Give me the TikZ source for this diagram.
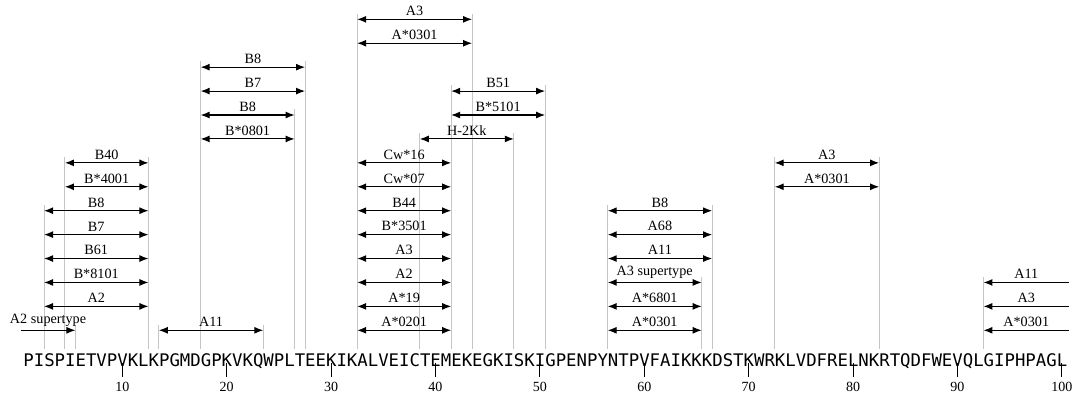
\documentclass[tikz,border=0pt]{standalone}
\usepackage{fontspec}
\setmainfont{Liberation Serif}
\newfontfamily\seqfont{DejaVu Sans Mono}
\usetikzlibrary{arrows.meta}

% left edge / right edge of residue n
\newcommand\myL[1]{23.18+(#1-1)*10.438}
\newcommand\myR[1]{33.62+(#1-1)*10.438}
\newcommand\rowy[1]{66.7+23.92*#1}

% epitope: name, row, start residue, end residue, label
\newcommand\epitope[5]{%
  \coordinate (#1a) at ({\myL{#3}},{\rowy{#2}});
  \coordinate (#1b) at ({\myR{#4}},{\rowy{#2}});
  \draw[epiarrow] (#1a) -- (#1b) node[lab] (#1l) {#5};
}
% guide line: name, x expression, top row
\newcommand\guide[3]{%
  \coordinate (#1t) at ({#2},{\rowy{#3}+5.7});
  \coordinate (#1b) at ({#2},48);
  \draw[guideline] (#1t) -- (#1b);
}

\begin{document}
\begin{tikzpicture}[x=1pt,y=1pt,
  guideline/.style={draw=gray!45, line width=1pt},
  epiarrow/.style={line width=1.1pt, {Latex[length=9pt,width=7pt]}-{Latex[length=9pt,width=7pt]}},
  rightarrow/.style={line width=1.1pt, -{Latex[length=9pt,width=7pt]}},
  leftarrow/.style={line width=1.1pt, {Latex[length=9pt,width=7pt]}-},
  lab/.style={midway, anchor=south, yshift=3pt, inner sep=0pt, font=\fontsize{14.2}{16}\selectfont},
  numlab/.style={anchor=base, inner sep=0pt, font=\fontsize{14}{16}\selectfont},
  ticksty/.style={line width=1pt}]
\useasboundingbox (0,0) rectangle (1075,397);

% guide lines
\guide{g1}{\myL{3}}{5}
\guide{g2}{\myL{5}}{7}
\guide{g3}{\myR{12}}{7}
\guide{g4}{\myR{5}}{0}
\guide{g5}{\myL{14}}{0}
\guide{g6}{\myR{23}}{0}
\guide{g7}{\myL{18}}{11}
\guide{g8}{\myR{27}}{11}
\guide{g9}{\myR{26}}{9}
\guide{g10}{\myL{33}}{13}
\guide{g11}{\myR{43}}{13}
\guide{g12}{\myL{42}}{10}
\guide{g13}{\myR{50}}{10}
\guide{g14}{\myL{39}}{8}
\guide{g15}{\myR{47}}{8}
\guide{g16}{\myL{57}}{5}
\guide{g17}{\myR{66}}{5}
\guide{g18}{\myR{65}}{2}
\guide{g19}{\myL{73}}{7}
\guide{g20}{\myR{82}}{7}
\guide{g21}{\myL{93}}{2}

% left group
\epitope{e1}{7}{5}{12}{B40}
\epitope{e2}{6}{5}{12}{B*4001}
\epitope{e3}{5}{3}{12}{B8}
\epitope{e4}{4}{3}{12}{B7}
\epitope{e5}{3}{3}{12}{B61}
\epitope{e6}{2}{3}{12}{B*8101}
\epitope{e7}{1}{3}{12}{A2}
\coordinate (e8a) at (20.7,{\rowy{0}});
\coordinate (e8b) at ({\myR{5}},{\rowy{0}});
\draw[rightarrow] (e8a) -- (e8b) node[lab] (e8l) {A2 supertype};
\epitope{e9}{0}{14}{23}{A11}

% left-middle group
\epitope{e10}{11}{18}{27}{B8}
\epitope{e11}{10}{18}{27}{B7}
\epitope{e12}{9}{18}{26}{B8}
\epitope{e13}{8}{18}{26}{B*0801}

% middle group
\epitope{e14}{13}{33}{43}{A3}
\epitope{e15}{12}{33}{43}{A*0301}
\epitope{e16}{10}{42}{50}{B51}
\epitope{e17}{9}{42}{50}{B*5101}
\epitope{e18}{8}{39}{47}{H-2Kk}
\epitope{e19}{7}{33}{41}{Cw*16}
\epitope{e20}{6}{33}{41}{Cw*07}
\epitope{e21}{5}{33}{41}{B44}
\epitope{e22}{4}{33}{41}{B*3501}
\epitope{e23}{3}{33}{41}{A3}
\epitope{e24}{2}{33}{41}{A2}
\epitope{e25}{1}{33}{41}{A*19}
\epitope{e26}{0}{33}{41}{A*0201}

% right-middle group
\epitope{e27}{5}{57}{66}{B8}
\epitope{e28}{4}{57}{66}{A68}
\epitope{e29}{3}{57}{66}{A11}
\epitope{e30}{2}{57}{65}{A3 supertype}
\epitope{e31}{1}{57}{65}{A*6801}
\epitope{e32}{0}{57}{65}{A*0301}

% right group
\epitope{e33}{7}{73}{82}{A3}
\epitope{e34}{6}{73}{82}{A*0301}
\coordinate (e35a) at ({\myL{93}},{\rowy{2}});
\coordinate (e35b) at (1069,{\rowy{2}});
\draw[leftarrow] (e35a) -- (e35b) node[lab] (e35l) {A11};
\coordinate (e36a) at ({\myL{93}},{\rowy{1}});
\coordinate (e36b) at (1069,{\rowy{1}});
\draw[leftarrow] (e36a) -- (e36b) node[lab] (e36l) {A3};
\coordinate (e37a) at ({\myL{93}},{\rowy{0}});
\coordinate (e37b) at (1069,{\rowy{0}});
\draw[leftarrow] (e37a) -- (e37b) node[lab] (e37l) {A*0301};

% sequence
\node[anchor=base west, inner sep=0pt, font=\seqfont\fontsize{17.34}{20}\selectfont] (seq) at (23.18,31)
  {PISPIETVPVKLKPGMDGPKVKQWPLTEEKIKALVEICTEMEKEGKISKIGPENPYNTPVFAIKKKDSTKWRKLVDFRELNKRTQDFWEVQLGIPHPAGL};

% ticks and numbers
\foreach \n in {10,20,...,100}{
  \coordinate (ta\n) at ({28.4+(\n-1)*10.438},33.7);
  \coordinate (tb\n) at ({28.4+(\n-1)*10.438},20);
  \draw[ticksty] (ta\n) -- (tb\n);
  \node[numlab] (num\n) at ({28.4+(\n-1)*10.438},5.3) {\n};
}
\end{tikzpicture}
\end{document}
